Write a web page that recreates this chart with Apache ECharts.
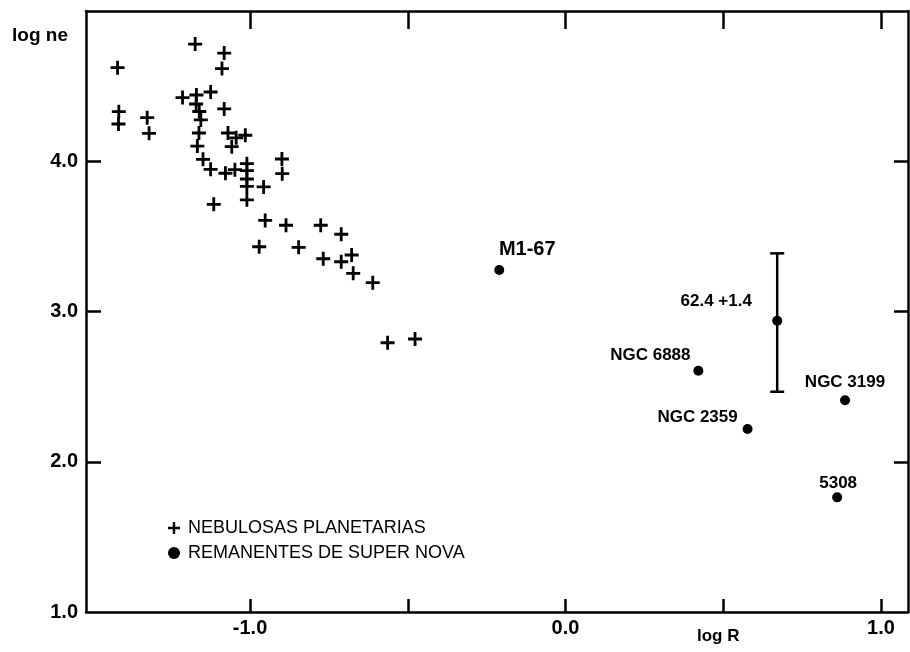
<!DOCTYPE html>
<html>
<head>
<meta charset="utf-8">
<script src="https://cdn.jsdelivr.net/npm/echarts@6/dist/echarts.min.js"></script>
<style>
html,body{margin:0;padding:0;background:#ffffff;}
#chart{width:910px;height:652px;}
</style>
</head>
<body>
<div id="chart"></div>
<script>
// ---- data (log R, log ne) ----
var planetaryLogR = [-1.174,-1.082,-1.089,-1.420,-1.214,-1.170,-1.125,-1.171,-1.161,-1.156,
  -1.082,-1.416,-1.417,-1.326,-1.320,-1.162,-1.167,-1.070,-1.044,-1.015,
  -1.058,-1.149,-1.125,-1.078,-1.048,-1.010,-1.010,-1.010,-1.010,-1.010,
  -0.957,-0.899,-0.898,-1.115,-0.952,-0.886,-0.776,-0.711,-0.971,-0.846,
  -0.768,-0.711,-0.678,-0.673,-0.611,-0.564,-0.477];
var planetaryLogNe = [4.780,4.720,4.617,4.623,4.424,4.441,4.461,4.381,4.331,4.275,
  4.348,4.330,4.248,4.290,4.186,4.188,4.101,4.188,4.156,4.173,
  4.097,4.013,3.946,3.920,3.944,3.984,3.938,3.882,3.833,3.743,
  3.829,4.015,3.917,3.713,3.606,3.574,3.574,3.514,3.431,3.427,
  3.351,3.331,3.376,3.254,3.192,2.792,2.817];

var remnantNames = ['M1-67','62.4 +1.4','NGC 6888','NGC 3199','NGC 2359','5308'];
var remnantLogR  = [-0.210, 0.671, 0.421, 0.886, 0.577, 0.861];
var remnantLogNe = [3.276, 2.939, 2.606, 2.409, 2.218, 1.763];

var errorBarName = '62.4 +1.4';
var errorBarLow  = [2.466];
var errorBarHigh = [3.387];
var errorBarLogR = [0.671];

var xTickValues  = [-1, -0.5, 0, 0.5, 1];
var xLabelValues = [-1, 0, 1];
var yTickValues  = [2, 3, 4];
var yLabelValues = [1, 2, 3, 4];

var legendNames = ['NEBULOSAS PLANETARIAS', 'REMANENTES DE SUPER NOVA'];

// ---- layout / styling (not data) ----
var labelOffsets = {
  'M1-67':      [28, -21],
  '62.4 +1.4':  [-61, -19],
  'NGC 6888':   [-48, -15],
  'NGC 3199':   [0, -18],
  'NGC 2359':   [-50, -12],
  '5308':       [1, -14]
};
var labelSizes = { 'M1-67': 20 };

var PLUS = 'path://M4,0H6V4H10V6H6V10H4V6H0V4H4Z';
var INK = '#000000';
var FONT = 'Liberation Sans, DejaVu Sans, sans-serif';

var planetaryData = planetaryLogR.map(function (x, i) { return [x, planetaryLogNe[i]]; });
var remnantData = remnantLogR.map(function (x, i) {
  var n = remnantNames[i];
  return {
    name: n,
    value: [x, remnantLogNe[i]],
    label: {
      show: true,
      formatter: n,
      position: 'inside',
      offset: labelOffsets[n],
      color: INK,
      fontFamily: FONT,
      fontWeight: 'bold',
      fontSize: labelSizes[n] || 17
    }
  };
});
var errorData = errorBarLogR.map(function (x, i) { return [x, errorBarLow[i], errorBarHigh[i]]; });

var xMin = -1.52, xMax = 1.0856;

function axisCommon() {
  return {
    type: 'value',
    min: xMin, max: xMax,
    axisLine: { show: true, onZero: false, lineStyle: { color: INK, width: 2.5 } },
    splitLine: { show: false }
  };
}

var chart = echarts.init(document.getElementById('chart'), null, { renderer: 'canvas' });
chart.setOption({
  backgroundColor: '#ffffff',
  animation: false,
  grid: { left: 86, right: 2, top: 11, bottom: 40, containLabel: false },
  xAxis: [
    Object.assign(axisCommon(), {
      position: 'bottom',
      axisTick: { show: true, inside: true, length: 13, customValues: xTickValues, lineStyle: { color: INK, width: 2.5 } },
      axisLabel: {
        show: true, customValues: xLabelValues, margin: 6,
        color: INK, fontFamily: FONT, fontSize: 20, fontWeight: 'bold',
        formatter: function (v) { return v.toFixed(1); }
      }
    }),
    Object.assign(axisCommon(), {
      position: 'top',
      axisTick: { show: true, inside: true, length: 18, customValues: xTickValues, lineStyle: { color: INK, width: 2.5 } },
      axisLabel: { show: false }
    })
  ],
  yAxis: [
    {
      type: 'value', position: 'left', min: 1, max: 5, interval: 1,
      axisLine: { show: true, onZero: false, lineStyle: { color: INK, width: 2.5 } },
      axisTick: { show: true, inside: true, length: 15, customValues: yTickValues, lineStyle: { color: INK, width: 2.5 } },
      axisLabel: {
        show: true, customValues: yLabelValues, margin: 8,
        color: INK, fontFamily: FONT, fontSize: 20, fontWeight: 'bold',
        formatter: function (v) { return v.toFixed(1); }
      },
      splitLine: { show: false }
    },
    {
      type: 'value', position: 'right', min: 1, max: 5, interval: 1,
      axisLine: { show: true, onZero: false, lineStyle: { color: INK, width: 2.5 } },
      axisTick: { show: true, inside: true, length: 14, customValues: yTickValues, lineStyle: { color: INK, width: 2.5 } },
      axisLabel: { show: false },
      splitLine: { show: false }
    }
  ],
  legend: {
    orient: 'vertical',
    left: 163, top: 514,
    itemWidth: 12, itemHeight: 12, itemGap: 7,
    selectedMode: false,
    data: [
      { name: legendNames[0], icon: PLUS },
      { name: legendNames[1], icon: 'circle' }
    ],
    textStyle: { color: INK, fontFamily: FONT, fontSize: 18, padding: [0, 0, 0, 3] }
  },
  graphic: [
    { type: 'text', left: 12, top: 26, style: { text: 'log ne', fill: INK, font: 'bold 19px ' + FONT } },
    { type: 'text', left: 697, top: 628, style: { text: 'log R', fill: INK, font: 'bold 17px ' + FONT } }
  ],
  series: [
    {
      name: legendNames[0],
      type: 'scatter',
      xAxisIndex: 0, yAxisIndex: 0,
      symbol: PLUS,
      symbolSize: 14,
      itemStyle: { color: INK, opacity: 1 },
      data: planetaryData
    },
    {
      name: errorBarName + ' error',
      type: 'custom',
      xAxisIndex: 0, yAxisIndex: 0,
      renderItem: function (params, api) {
        var top = api.coord([api.value(0), api.value(2)]);
        var bot = api.coord([api.value(0), api.value(1)]);
        var cap = 7;
        var st = { stroke: INK, lineWidth: 2.5 };
        return {
          type: 'group',
          children: [
            { type: 'line', shape: { x1: top[0], y1: top[1], x2: bot[0], y2: bot[1] }, style: st },
            { type: 'line', shape: { x1: top[0] - cap, y1: top[1], x2: top[0] + cap, y2: top[1] }, style: st },
            { type: 'line', shape: { x1: bot[0] - cap, y1: bot[1], x2: bot[0] + cap, y2: bot[1] }, style: st }
          ]
        };
      },
      encode: { x: 0, y: [1, 2] },
      data: errorData,
      z: 1
    },
    {
      name: legendNames[1],
      type: 'scatter',
      xAxisIndex: 0, yAxisIndex: 0,
      symbol: 'circle',
      symbolSize: 10,
      itemStyle: { color: INK, opacity: 1 },
      data: remnantData,
      z: 3
    }
  ]
});
</script>
</body>
</html>
